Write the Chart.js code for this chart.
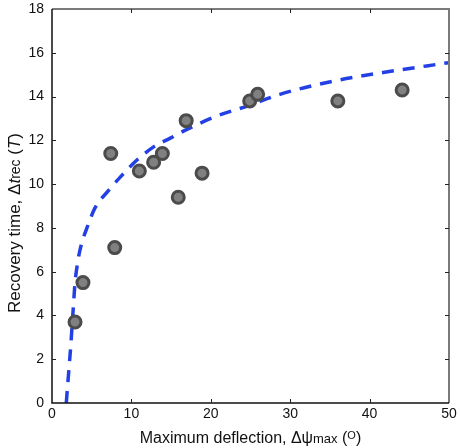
<!DOCTYPE html>
<html>
<head>
<meta charset="utf-8">
<script src="https://cdn.jsdelivr.net/npm/chart.js@4"></script>
<style>
  html, body { margin: 0; padding: 0; background: #fff; }
  #wrap { width: 460px; height: 448px; }
</style>
</head>
<body>
<div id="wrap"><canvas id="chart" width="460" height="448"></canvas></div>
<script>
// Measured recovery times
const deflection = [2.9, 3.9, 7.4, 7.9, 11.0, 12.8, 13.9, 15.9, 16.9, 18.9, 24.9, 25.9, 36.0, 44.1];
const recovery = [3.7, 5.5, 11.4, 7.1, 10.6, 11.0, 11.4, 9.4, 12.9, 10.5, 13.8, 14.1, 13.8, 14.3];

// Fitted curve
const fitX = [1.8, 2.04, 2.35, 2.68, 2.9, 3.2, 3.5, 4.0, 4.4, 5.4, 7.1, 8.8, 10.7, 12.8, 14.9, 17.0, 20.7, 24.9, 28.7, 35.4, 41.7, 50];
const fitY = [0, 1.13, 2.55, 4.35, 5.5, 6.35, 6.95, 7.6, 8.0, 8.9, 9.7, 10.4, 11.1, 11.7, 12.1, 12.5, 13.1, 13.6, 14.1, 14.7, 15.1, 15.55];

// Axis ticks
const xTicks = [0, 10, 20, 30, 40, 50];
const yTicks = [0, 2, 4, 6, 8, 10, 12, 14, 16, 18];

const FONT = "'Liberation Sans', Arial, Helvetica, sans-serif";

// Draw a run of text pieces with different fonts, centred on the origin
function drawPieces(ctx, pieces) {
  let total = 0;
  pieces.forEach(p => {
    ctx.font = p.font;
    p.w = ctx.measureText(p.text).width;
    total += p.w;
  });
  let x = -total / 2;
  pieces.forEach(p => {
    ctx.font = p.font;
    ctx.fillText(p.text, x, p.dy || 0);
    x += p.w;
  });
}

// Frame, inward ticks and axis titles
const framePlugin = {
  id: 'frame',
  afterDatasetsDraw(chart) {
    const { ctx, chartArea: a, scales } = chart;
    const xs = scales.x, ys = scales.y;
    ctx.save();

    // top and right box lines (grey)
    ctx.strokeStyle = '#7a7a7a';
    ctx.lineWidth = 2;
    ctx.beginPath();
    ctx.moveTo(a.left, a.top);
    ctx.lineTo(a.right, a.top);
    ctx.lineTo(a.right, a.bottom);
    ctx.stroke();

    // left and bottom axis lines
    ctx.strokeStyle = '#111';
    ctx.lineWidth = 1.5;
    ctx.beginPath();
    ctx.moveTo(a.left, a.top);
    ctx.lineTo(a.left, a.bottom);
    ctx.lineTo(a.right, a.bottom);
    ctx.stroke();

    // inward ticks
    ctx.strokeStyle = '#222';
    ctx.lineWidth = 1;
    const len = 4;
    ctx.beginPath();
    xTicks.slice(1, -1).forEach(v => {
      const px = Math.round(xs.getPixelForValue(v)) + 0.5;
      ctx.moveTo(px, a.bottom);
      ctx.lineTo(px, a.bottom - len);
      ctx.moveTo(px, a.top);
      ctx.lineTo(px, a.top + len);
    });
    yTicks.slice(1, -1).forEach(v => {
      const py = Math.round(ys.getPixelForValue(v)) + 0.5;
      ctx.moveTo(a.left, py);
      ctx.lineTo(a.left + len, py);
      ctx.moveTo(a.right, py);
      ctx.lineTo(a.right - len, py);
    });
    ctx.stroke();

    ctx.fillStyle = '#111';
    ctx.textBaseline = 'alphabetic';
    ctx.textAlign = 'left';

    // x title
    ctx.save();
    ctx.translate((a.left + a.right) / 2, 443);
    drawPieces(ctx, [
      { text: 'Maximum deflection, \u0394\u03c8', font: '16px ' + FONT },
      { text: 'max', font: '13px ' + FONT },
      { text: ' (', font: '16px ' + FONT },
      { text: 'O', font: '11px ' + FONT, dy: -4 },
      { text: ')', font: '16px ' + FONT }
    ]);
    ctx.restore();

    // y title
    ctx.save();
    ctx.translate(20, 223);
    ctx.rotate(-Math.PI / 2);
    drawPieces(ctx, [
      { text: 'Recovery time, \u0394', font: '17px ' + FONT },
      { text: 't', font: 'italic 17px ' + FONT },
      { text: 'rec', font: '14px ' + FONT },
      { text: ' (', font: '17px ' + FONT },
      { text: 'T', font: 'italic 17px ' + FONT },
      { text: ')', font: '17px ' + FONT }
    ]);
    ctx.restore();

    ctx.restore();
  }
};

const ctx = document.getElementById('chart').getContext('2d');
new Chart(ctx, {
  type: 'scatter',
  data: {
    datasets: [
      {
        label: 'Data',
        data: deflection.map((x, i) => ({ x: x, y: recovery[i] })),
        pointRadius: 6,
        pointBorderWidth: 3,
        pointBackgroundColor: '#808080',
        pointBorderColor: '#4b4b4b',
        order: 0
      },
      {
        label: 'Fit',
        type: 'line',
        data: fitX.map((x, i) => ({ x: x, y: fitY[i] })),
        borderColor: '#2340e6',
        borderWidth: 3.5,
        borderDash: [12, 9],
        pointRadius: 0,
        fill: false,
        cubicInterpolationMode: 'monotone',
        order: 1
      }
    ]
  },
  options: {
    responsive: false,
    animation: false,
    events: [],
    layout: { padding: { left: 0, right: 11, top: 5, bottom: 0 } },
    plugins: {
      legend: { display: false },
      tooltip: { enabled: false }
    },
    scales: {
      x: {
        type: 'linear',
        min: 0,
        max: 50,
        afterFit: s => { s.height = 45; s.paddingLeft = 0; s.paddingRight = 0; },
        afterBuildTicks: s => { s.ticks = xTicks.map(v => ({ value: v })); },
        grid: { display: false, drawTicks: false },
        border: { display: false },
        ticks: { padding: 3, color: '#111', font: { family: FONT, size: 14 } }
      },
      y: {
        type: 'linear',
        min: 0,
        max: 18,
        afterFit: s => { s.width = 52; s.paddingTop = 0; s.paddingBottom = 0; },
        afterBuildTicks: s => { s.ticks = yTicks.map(v => ({ value: v })); },
        grid: { display: false, drawTicks: false },
        border: { display: false },
        ticks: { padding: 8, color: '#111', font: { family: FONT, size: 14 } }
      }
    }
  },
  plugins: [framePlugin]
});
</script>
</body>
</html>
